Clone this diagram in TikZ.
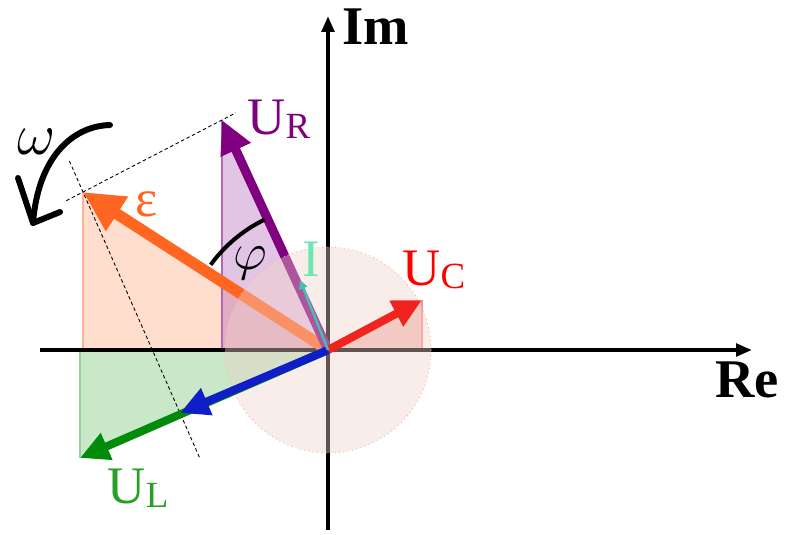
\documentclass[tikz,border=0pt]{standalone}
\usepackage{fontspec}
\setmainfont{Liberation Serif}
\usetikzlibrary{arrows.meta}
\usetikzlibrary{calc}

\definecolor{urcol}{RGB}{128,0,128}
\definecolor{epscol}{RGB}{255,102,34}
\definecolor{uccol}{RGB}{240,35,30}
\definecolor{blucol}{RGB}{15,30,200}
\definecolor{ulcol}{RGB}{0,140,10}
\definecolor{icol}{RGB}{70,190,180}
\definecolor{ilabcol}{RGB}{110,230,180}
\definecolor{ullabcol}{RGB}{40,160,40}
\definecolor{epsfillcol}{RGB}{255,222,205}
\definecolor{urfillcol}{RGB}{160,60,170}
\definecolor{ucfillcol}{RGB}{235,140,130}
\definecolor{ulfillcol}{RGB}{200,232,200}
\definecolor{circcol}{RGB}{240,210,200}
\definecolor{circline}{RGB}{255,170,170}

\newcommand{\vsub}[1]{{\fontsize{21}{21}\selectfont\raisebox{-2pt}{#1}}}

\begin{document}
\begin{tikzpicture}[
    x=0.2mm, y=-0.2mm,
    every node/.style={inner sep=0pt, font=\fontsize{30}{30}\selectfont},
  vec/.style={line width=#1, -{Triangle[length=0pt 3.6, width=0pt 3.4]}},
  axis/.style={line width=2.2pt, -{Triangle[length=9pt, width=7pt]}},
  guide/.style={line width=0.5pt, dash pattern=on 2pt off 1.5pt},
  ]
\useasboundingbox (0,0) rectangle (790,534);

  \coordinate (O)   at (328,350);
  \coordinate (ur)  at (222,120);
  \coordinate (eps) at (83,192);
  \coordinate (uc)  at (422,300);
  \coordinate (ucl) at (180,413);
  \coordinate (ul)  at (80,458);
  \coordinate (i)   at (300,280);
  \coordinate (reA) at (40,350);
  \coordinate (reB) at (752,350);
  \coordinate (imA) at (328,530);
  \coordinate (imB) at (328,16);
  \coordinate (om1) at (110,125);
  \coordinate (om2) at (72,126);
  \coordinate (om3) at (38,158);
  \coordinate (om4) at (33,223);
  \coordinate (omL) at (18,178);
  \coordinate (omR) at (60,212);

  % shaded triangles
  \fill[epsfillcol] (O) -- (eps |- O) -- (eps) -- cycle;
  \draw[epscol!50, line width=0.6pt] (eps |- O) -- (eps);
  \fill[ulfillcol] (O) -- (ul |- O) -- (ul) -- cycle;
  \draw[ulcol!40, line width=0.6pt] (ul |- O) -- (ul);
  \fill[urfillcol, fill opacity=0.3] (O) -- (ur |- O) -- (ur) -- cycle;
  \draw[urcol!60, line width=0.6pt] (ur |- O) -- (ur);
  \fill[ucfillcol, fill opacity=0.5] (O) -- (uc |- O) -- (uc) -- cycle;
  \draw[uccol!50, line width=0.6pt] (uc |- O) -- (uc);

  \draw[axis] (reA) -- (reB);
  \draw[axis] (imA) -- (imB);

  \draw[guide] ($(eps)!-0.12!(ur)$) -- ($(ur)!-0.1!(eps)$);
  \draw[guide] ($(eps)!-0.14!(ucl)$) -- ($(ucl)!-0.2!(eps)$);

  \draw[vec=6.4pt, epscol] (O) -- (eps);
  \draw[vec=5.2pt, urcol] (O) -- (ur);

  \fill[circcol, fill opacity=0.4] (O) circle[radius=20.6mm];
  \draw[circline, line width=0.5pt, dotted] (O) circle[radius=20.6mm];

  \draw[vec=4.6pt, ulcol] (O) -- (ul);
  \draw[vec=4.6pt, blucol] (O) -- (ucl);
  \draw[vec=4.6pt, uccol] (O) -- (uc);
  \draw[vec=1.4pt, icol] (O) -- (i);

  \draw[line width=2.3pt] ([shift={(144:29mm)}]O) arc[start angle=144, end angle=116, radius=29mm];
  \draw[line width=3.4pt, line cap=round] (om1) .. controls (om2) and (om3) .. (om4);
  \draw[line width=3.4pt, line cap=round, line join=round] (omL) -- (om4) -- (omR);

  \node[font=\fontsize{31}{31}\selectfont\bfseries] (imlab) at (376,27) {Im};
  \node[font=\fontsize{31}{31}\selectfont\bfseries] (relab) at (747,380) {Re};
  \node[text=urcol] (urlab) at (279,119) {U\vsub{R}};
  \node[text=red] (uclab) at (434,270) {U\vsub{C}};
  \node[text=ullabcol] (ullab) at (138,488) {U\vsub{L}};
  \node[text=ilabcol] (ilab) at (311,259) {I};
  \node[text=epscol] (epslab) at (147,204) {ε};
  \node (philab) at (250,263) {\scalebox{1.2}{$\varphi$}};
  \node (omlab) at (37,142) {\scalebox{1.35}{$\omega$}};

  \end{tikzpicture}
\end{document}
